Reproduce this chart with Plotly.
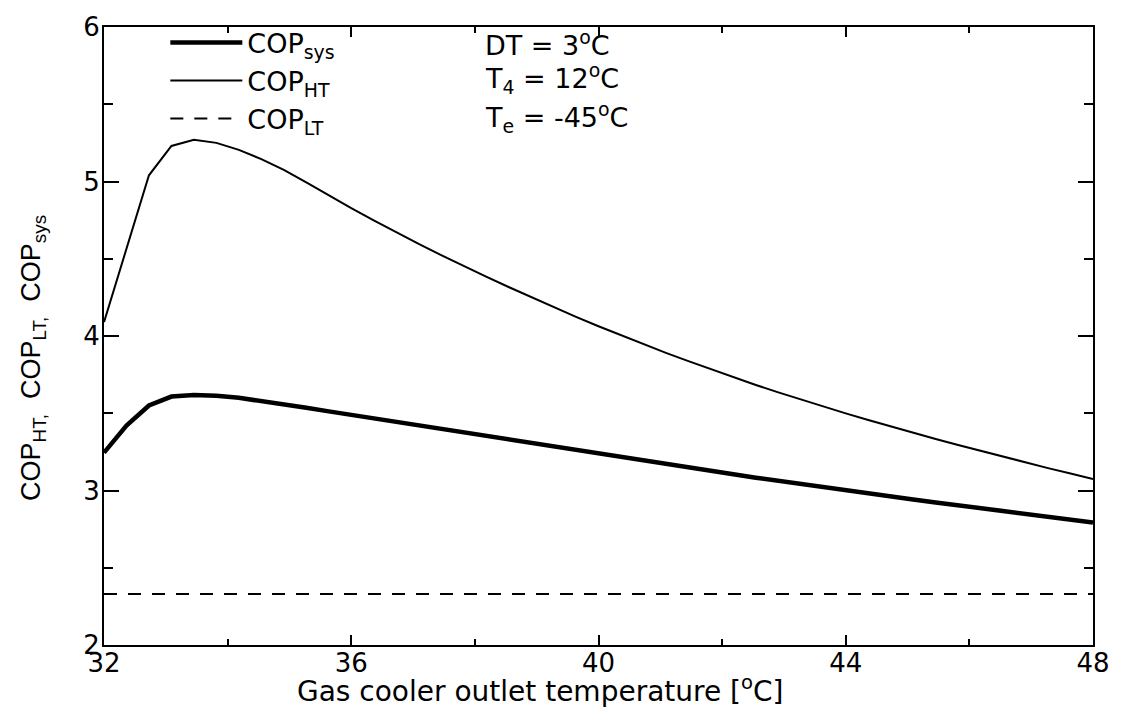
import numpy as np
import plotly.graph_objects as go

# Gas cooler outlet temperature [°C], 45 evenly spaced operating points
t_gc = np.linspace(32, 48, 45)

# COP of the high-temperature cycle
cop_ht = [4.090, 4.570, 5.040, 5.230, 5.270, 5.250, 5.205, 5.145, 5.075, 4.995,
          4.910, 4.828, 4.749, 4.670, 4.596, 4.524, 4.453, 4.384, 4.317, 4.251,
          4.187, 4.124, 4.063, 4.004, 3.947, 3.891, 3.837, 3.784, 3.733, 3.683,
          3.635, 3.588, 3.543, 3.499, 3.456, 3.414, 3.373, 3.333, 3.294, 3.256,
          3.218, 3.181, 3.145, 3.110, 3.075]

# COP of the overall cascade system
cop_sys = [3.245, 3.420, 3.550, 3.608, 3.618, 3.613, 3.600, 3.580, 3.558, 3.535,
           3.512, 3.489, 3.466, 3.443, 3.421, 3.398, 3.375, 3.352, 3.329, 3.306,
           3.283, 3.260, 3.237, 3.215, 3.193, 3.171, 3.149, 3.127, 3.105, 3.083,
           3.062, 3.041, 3.021, 3.001, 2.981, 2.961, 2.942, 2.923, 2.904, 2.885,
           2.867, 2.849, 2.831, 2.813, 2.793]

# COP of the low-temperature cycle (independent of gas cooler temperature)
cop_lt_value = 2.33
cop_lt = [cop_lt_value] * len(t_gc)

x_ticks = [32, 36, 40, 44, 48]
y_ticks = [2, 3, 4, 5, 6]

conditions = ["DT = 3<sup>o</sup>C",
              "T<sub>4</sub> = 12<sup>o</sup>C",
              "T<sub>e</sub> = -45<sup>o</sup>C"]

FONT = "DejaVu Sans, Liberation Sans, Arial, sans-serif"
FONT_Y = "Liberation Sans, Arial, sans-serif"

# plot-area geometry in pixels (used to place the text annotations)
L, R, T, B = 104, 1096, 19, 645
PW, PH = R - L, B - T


def px_x(px):
    return (px - L) / PW


def px_y(py):
    return (B - py) / PH


fig = go.Figure()
fig.add_trace(go.Scatter(x=t_gc, y=cop_sys, mode="lines", name="COP<sub>sys</sub>",
                         line=dict(color="black", width=4.5)))
fig.add_trace(go.Scatter(x=t_gc, y=cop_ht, mode="lines", name="COP<sub>HT</sub>",
                         line=dict(color="black", width=2)))
fig.add_trace(go.Scatter(x=t_gc, y=cop_lt, mode="lines", name="COP<sub>LT</sub>",
                         line=dict(color="black", width=2, dash="13px,11px")))

axis_common = dict(showline=True, linecolor="black", linewidth=2, mirror="ticks",
                   ticks="inside", tickcolor="black", tickwidth=2,
                   showgrid=False, zeroline=False,
                   tickfont=dict(family=FONT, size=26, color="black"))

fig.update_xaxes(range=[32, 48], tickvals=x_ticks, ticklen=10, ticklabelstandoff=-6,
                 minor=dict(tickvals=[34, 38, 42, 46], ticklen=6, ticks="inside",
                            tickcolor="black", tickwidth=2),
                 **axis_common)
fig.update_yaxes(range=[2, 6], tickvals=y_ticks, ticklen=15, ticklabelstandoff=-3,
                 minor=dict(dtick=0.5, ticklen=9, ticks="inside",
                            tickcolor="black", tickwidth=2),
                 **axis_common)

annotations = [
    dict(text="Gas cooler outlet temperature [<sup>o</sup>C]", xref="paper", yref="paper",
         x=px_x(541), y=px_y(690), xanchor="center", yanchor="middle", showarrow=False,
         font=dict(family=FONT, size=28, color="black")),
    dict(text="COP<sub>HT,</sub>  COP<sub>LT,</sub>  COP<sub>sys</sub>", xref="paper", yref="paper",
         x=px_x(33), y=px_y(354), xanchor="center", yanchor="middle", textangle=-90,
         showarrow=False, font=dict(family=FONT_Y, size=27, color="black")),
]
for txt, py in zip(conditions, [36, 71, 111]):
    annotations.append(dict(text=txt, xref="paper", yref="paper",
                            x=px_x(484), y=px_y(py),
                            xanchor="left", yanchor="middle", showarrow=False,
                            font=dict(family=FONT, size=27, color="black")))

fig.update_layout(
    width=1122, height=711,
    margin=dict(l=L, r=1122 - R, t=T, b=711 - B),
    paper_bgcolor="white", plot_bgcolor="white",
    showlegend=True,
    legend=dict(x=0.062, y=1.014, xanchor="left", yanchor="top",
                bgcolor="rgba(0,0,0,0)", borderwidth=0, itemwidth=72,
                tracegroupgap=0,
                font=dict(family=FONT, size=27, color="black")),
    annotations=annotations,
)

fig.write_html("out.html")
